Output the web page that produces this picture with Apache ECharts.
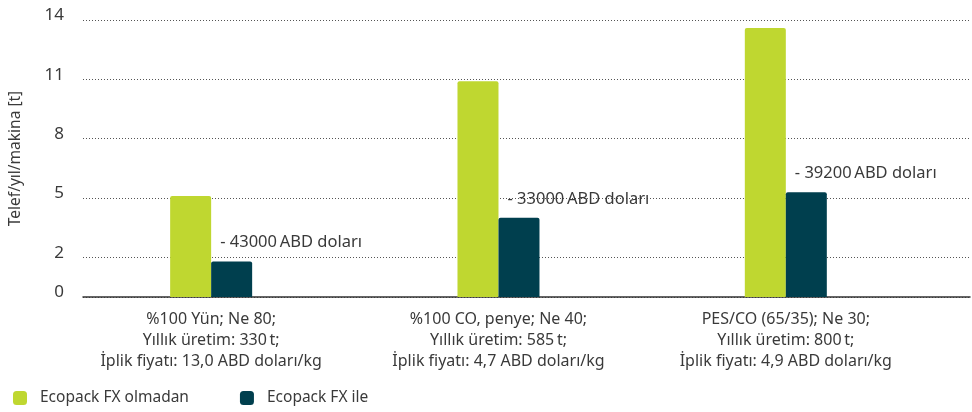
<!DOCTYPE html>
<html>
<head>
<meta charset="utf-8">
<script src="https://cdn.jsdelivr.net/npm/echarts@6/dist/echarts.min.js"></script>
<style>
  html, body { margin: 0; padding: 0; background: #fff; }
  #myChart { width: 972px; height: 412px; }
</style>
</head>
<body>
<div id="myChart"></div>
<script>
// kategoriler (x ekseni), her biri 3 satir
var categories = [
  '%100 Yün; Ne 80;\nYıllık üretim: 330\u2009t;\nİplik fiyatı: 13,0 ABD doları/kg',
  '%100 CO, penye; Ne 40;\nYıllık üretim: 585\u2009t;\nİplik fiyatı: 4,7 ABD doları/kg',
  'PES/CO (65/35); Ne 30;\nYıllık üretim: 800\u2009t;\nİplik fiyatı: 4,9 ABD doları/kg'
];
var positions = [0, 1, 2];
var withoutFx = [5.1, 10.9, 13.6];
var withFx = [1.8, 4.0, 5.3];
var savings = ['- 43000\u2009ABD doları', '- 33000\u2009ABD doları', '- 39200\u2009ABD doları'];
var yTicks = [0, 2, 5, 8, 11, 14];
var seriesNames = ['Ecopack FX olmadan', 'Ecopack FX ile'];

var font = 'Noto Sans';
var textColor = '#3a3a3a';

var myChart = echarts.init(document.getElementById('myChart'));
var option = {
  animation: false,
  textStyle: { fontFamily: font },
  grid: { left: 79, right: 2, top: 20, bottom: 115 },
  legend: {
    left: 8, bottom: 1,
    itemWidth: 14, itemHeight: 14, itemGap: 51,
    icon: 'roundRect',
    textStyle: { fontFamily: font, fontSize: 15.5, color: textColor, padding: [0, 0, 0, 8] },
    data: seriesNames
  },
  xAxis: {
    type: 'value',
    // bar serisi eksen araligini biraz genisletiyor, o yuzden min biraz iceride
    min: -0.446, max: 2.641,
    axisLine: { onZero: false, lineStyle: { color: '#333', width: 1.5 } },
    axisTick: { show: false },
    splitLine: { show: false },
    axisLabel: {
      customValues: positions,
      margin: 12,
      fontFamily: font, fontSize: 16, color: textColor, lineHeight: 21, align: 'center',
      formatter: function (v) { return categories[Math.round(v)]; }
    }
  },
  yAxis: {
    type: 'value',
    min: 0, max: 14,
    name: 'Telef/yıl/makina [t]',
    nameLocation: 'middle', nameGap: 59,
    nameTextStyle: { fontFamily: font, fontSize: 15.5, color: textColor },
    axisLine: { show: false, onZero: false },
    axisTick: { show: false, customValues: yTicks },
    axisLabel: {
      customValues: yTicks,
      margin: 19,
      fontFamily: font, fontSize: 17, color: textColor,
      verticalAlign: 'bottom', lineHeight: 9
    },
    splitLine: { lineStyle: { type: [1, 2], color: '#555', width: 1 } }
  },
  series: [
    {
      name: seriesNames[0], type: 'bar', barWidth: 41, barGap: '0%',
      itemStyle: { color: '#bfd730', borderRadius: [2, 2, 0, 0] },
      data: withoutFx.map(function (v, i) { return [positions[i], v]; })
    },
    {
      name: seriesNames[1], type: 'bar', barWidth: 41, barGap: '0%',
      itemStyle: { color: '#003f4e', borderRadius: [2, 2, 0, 0] },
      label: {
        show: true, position: [9, -19], align: 'left', verticalAlign: 'middle',
        fontFamily: font, fontSize: 16.5, color: textColor,
        formatter: function (p) { return savings[p.dataIndex]; }
      },
      data: withFx.map(function (v, i) { return [positions[i], v]; })
    }
  ]
};
myChart.setOption(option);
</script>
</body>
</html>
